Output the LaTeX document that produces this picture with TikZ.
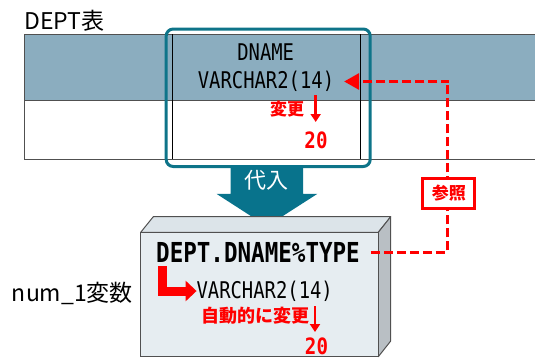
\documentclass[tikz,border=0pt]{standalone}
\usepackage{fontspec}
\setmainfont{Noto Sans CJK JP}
\newfontfamily\jpf{Noto Sans CJK JP}
\newfontfamily\monoa[FakeStretch=0.82]{DejaVu Sans Mono}
\newfontfamily\monob[FakeStretch=0.82]{DejaVu Sans Mono}
\newfontfamily\monoc[FakeStretch=0.85]{DejaVu Sans Mono}
\usetikzlibrary{arrows.meta}
\definecolor{hdr}{RGB}{139,173,191}
\definecolor{tealc}{RGB}{14,116,137}
\definecolor{arrowc}{RGB}{8,115,140}
\definecolor{redc}{RGB}{255,0,0}
\definecolor{boxfront}{RGB}{230,237,241}
\definecolor{boxtop}{RGB}{220,228,233}
\definecolor{boxside}{RGB}{185,191,196}
\definecolor{edgec}{RGB}{80,80,80}
\tikzset{
  plain/.style={inner sep=0pt, outer sep=0pt},
  sanslabel/.style={plain, font=\jpf\fontsize{23}{23}\selectfont},
  monotext/.style={plain, font=\monoa\fontsize{23}{23}\selectfont},
  monobig/.style={plain, font=\monob\bfseries\fontsize{27.5}{27.5}\selectfont},
  rednum/.style={plain, text=redc, font=\monoc\bfseries\fontsize{22.5}{22.5}\selectfont},
  redjp/.style={plain, text=redc, font=\jpf\bfseries\fontsize{17}{17}\selectfont},
  smallarrow/.style={redc, line width=2.5pt, -{Triangle[length=8pt,width=10pt]}},
  dashconn/.style={redc, line width=3pt, dash pattern=on 9pt off 4pt, -{Triangle[length=15pt,width=16pt]}},
}
\begin{document}
\begin{tikzpicture}[x=1pt,y=-1pt]
\useasboundingbox (0,0) rectangle (535,359);
% table
\fill[hdr] (24,34) rectangle (535,100);
\draw[edgec, line width=1pt] (535,34) -- (24,34) -- (24,159.3) -- (535,159.3);
\draw[edgec, line width=1pt] (24,100) -- (535,100);
\draw[black, line width=0.8pt] (172.3,34) -- (172.3,159.3);
\draw[black, line width=0.8pt] (360.6,34) -- (360.6,159.3);
\node[sanslabel, anchor=base west] (tbl) at (24.5,29.5) {DEPT表};
% highlight
\node[draw=tealc, line width=3pt, rounded corners=7pt, minimum width=204pt, minimum height=137.5pt, inner sep=0pt] (hl) at (268.2,97.75) {};
\node[monotext] (dname) at (265.7,52) {DNAME};
\node[monotext] (vc1) at (266,81.5) {VARCHAR2(14)};
\node[redjp] (chg1) at (287,109) {変更};
\coordinate (a1s) at (315.7,95);
\coordinate (a1e) at (315.7,122);
\draw[smallarrow] (a1s) -- (a1e);
\node[rednum] (n1) at (316,140) {20};
% big arrow
\fill[arrowc] (230.6,165) -- (303,165) -- (303,193.9) -- (317.3,193.9) -- (266.8,226.3) -- (216.6,193.9) -- (230.6,193.9) -- cycle;
\node[plain, text=white, font=\jpf\fontsize{22}{22}\selectfont] (subst) at (266.8,180) {代入};
% 3D box
\fill[boxtop, draw=edgec, line width=1pt, line join=round] (140.7,232.3) -- (153.3,216.7) -- (390.7,216.7) -- (378.3,232.3) -- cycle;
\fill[boxside, draw=edgec, line width=1pt, line join=round] (378.3,232.3) -- (390.7,216.7) -- (390.7,341) -- (378.3,356.7) -- cycle;
\fill[boxfront, draw=edgec, line width=1pt] (140.7,232.3) rectangle (378.3,356.7);
\node[sanslabel, anchor=base west] (var) at (12,301) {num\_1変数};
\node[monobig] (type) at (258,252) {DEPT.DNAME\%TYPE};
\node[monotext] (vc2) at (264.7,291) {VARCHAR2(14)};
\coordinate (ls) at (162,266);
\draw[redc, line width=9pt, -{Triangle[length=11pt,width=20pt]}] (ls) |- (vc2.west);
\node[redjp, font=\jpf\bfseries\fontsize{18}{18}\selectfont] (chg2) at (255,316) {自動的に変更};
\coordinate (a2s) at (315,306);
\coordinate (a2e) at (315,332);
\draw[smallarrow] (a2s) -- (a2e);
\node[rednum] (n2) at (316.5,346) {20};
% reference connector
\coordinate (c) at (447.3,80);
\draw[dashconn, shorten <=11pt, shorten >=10pt] (type.east) -| (c) |- (vc1.east);
\node[draw=redc, line width=3pt, fill=white, minimum width=52pt, minimum height=30pt, inner sep=0pt, text=redc, font=\jpf\bfseries\fontsize{17}{17}\selectfont] (ref) at (448.8,193.3) {参照};
\end{tikzpicture}
\end{document}
